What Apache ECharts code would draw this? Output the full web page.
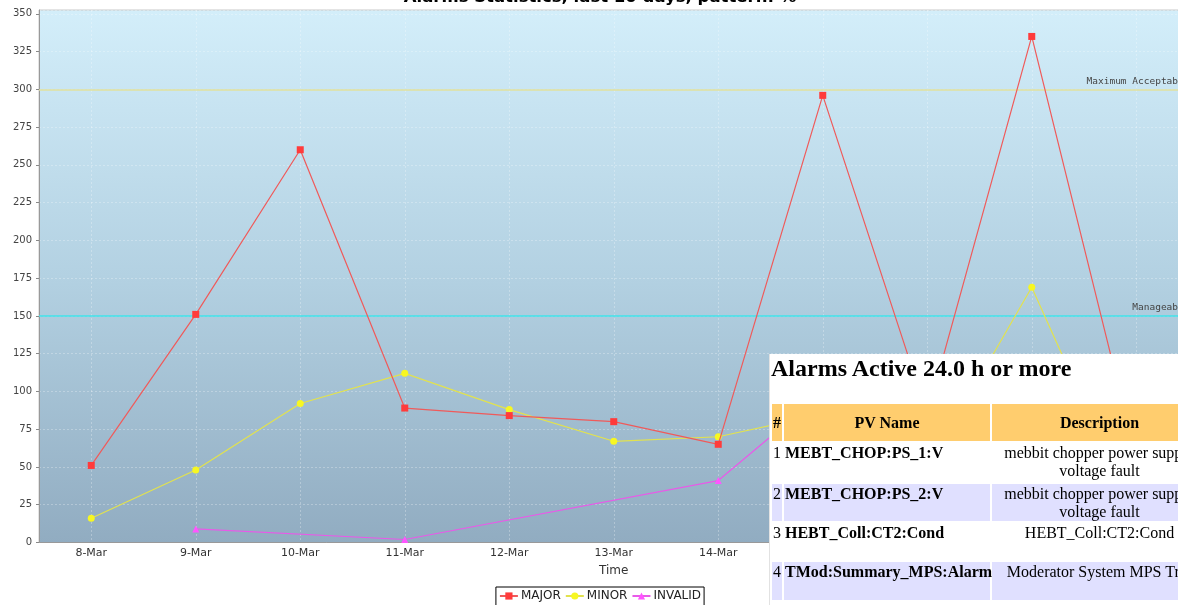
<!DOCTYPE html>
<html>
<head>
<meta charset="utf-8">
<script src="https://cdn.jsdelivr.net/npm/echarts@6/dist/echarts.min.js"></script>
<style>
html,body{margin:0;padding:0;width:1178px;height:605px;overflow:hidden;background:#fff;}
#chart{position:absolute;left:0;top:0;width:1200px;height:605px;}
#panel{position:absolute;left:770px;top:354px;width:470px;height:260px;background:#fff;overflow:hidden;box-shadow:-1px 0 0 #e2e2e2;font-family:'Liberation Serif','Times New Roman',serif;color:#000;z-index:2;}
#ptitle{position:absolute;left:1px;top:1px;font-size:24px;font-weight:bold;line-height:27px;white-space:nowrap;}
#ptable{position:absolute;left:0;top:48px;border-collapse:separate;border-spacing:2px;table-layout:fixed;width:439px;font-size:16px;line-height:18px;}
#ptable th{background:#FFCD6E;font-weight:bold;padding:0 1px;vertical-align:middle;text-align:center;}
#ptable td{padding:1px 1px 0 1px;vertical-align:top;}
#ptable td.num{text-align:left;}
#ptable td.pv{font-weight:bold;text-align:left;white-space:nowrap;}
#ptable td.desc{text-align:center;}
#ptable tr.even td{background:#E0E0FF;}
#ptable tr.odd td{background:#fff;}
</style>
</head>
<body>
<div id="chart"></div>
<div id="panel"><div id="ptitle"></div><table id="ptable"></table></div>
<script>
// ---- chart data ----
const chartTitle = 'Alarms Statistics, last 10 days, pattern: %';
const categories = ['8-Mar','9-Mar','10-Mar','11-Mar','12-Mar','13-Mar','14-Mar','15-Mar','16-Mar','17-Mar','18-Mar'];
const majorValues = [51, 151, 260, 89, 84, 80, 65, 296, 85, 335, 56];
const minorValues = [16, 48, 92, 112, 88, 67, 70, 85, 49, 169, 15];
const invalidValues = [null, 9, null, 2, null, null, 41, 99, null, null, null];
const seriesNames = ['MAJOR', 'MINOR', 'INVALID'];
const thresholdValues = [300, 150];
const thresholdLabels = ['Maximum Acceptable', 'Manageable'];
const yMin = 0, yMaxTick = 350, yInterval = 25;
const xAxisName = 'Time';

// ---- table data ----
const tableTitle = 'Alarms Active 24.0 h or more';
const tableHeaders = ['#', 'PV Name', 'Description'];
const pvNames = ['MEBT_CHOP:PS_1:V', 'MEBT_CHOP:PS_2:V', 'HEBT_Coll:CT2:Cond', 'TMod:Summary_MPS:Alarm'];
const pvDescriptions = ['mebbit chopper power supply voltage fault', 'mebbit chopper power supply voltage fault', 'HEBT_Coll:CT2:Cond', 'Moderator System MPS Trip'];

// ---- build table ----
(function(){
  document.getElementById('ptitle').textContent = tableTitle;
  const t = document.getElementById('ptable');
  const colW = [10, 206, 215];
  const rowH = [39, 37, 37, 38];
  let html = '<colgroup>' + colW.map(w => '<col style="width:' + w + 'px">').join('') + '</colgroup>';
  html += '<tr style="height:37px">' + tableHeaders.map(h => '<th>' + h + '</th>').join('') + '</tr>';
  pvNames.forEach((pv, i) => {
    html += '<tr class="' + (i % 2 ? 'even' : 'odd') + '" style="height:' + rowH[i] + 'px">' +
      '<td class="num">' + (i + 1) + '</td><td class="pv">' + pv + '</td><td class="desc">' + pvDescriptions[i] + '</td></tr>';
  });
  t.innerHTML = html;
})();

// ---- chart ----
const chart = echarts.init(document.getElementById('chart'), null, {renderer: 'canvas'});
const gridTop = 10, gridBottomY = 542.5, pxPerUnit = 1.5106;
const yMax = yMaxTick + (gridBottomY - gridTop - yMaxTick * pxPerUnit) / pxPerUnit;

const gridLineStyle = {color: 'rgba(255,255,255,0.28)', type: [2, 2], width: 1};

const option = {
  animation: false,
  backgroundColor: '#ffffff',
  title: {
    text: chartTitle,
    left: 'center',
    top: -10.5,
    padding: 0,
    textStyle: {fontFamily: 'DejaVu Sans', fontSize: 16.5, fontWeight: 'bold', color: '#000'}
  },
  legend: {
    data: seriesNames,
    left: 'center',
    top: 587,
    padding: [3, 3, 8, 3],
    itemGap: 4,
    itemWidth: 18,
    itemHeight: 9,
    borderColor: '#000',
    borderWidth: 1,
    backgroundColor: '#fff',
    textStyle: {fontFamily: 'DejaVu Sans', fontSize: 12, color: '#222', padding: [0, 0, 0, -2]}
  },
  grid: {
    left: 39, top: gridTop, width: 1149.5, height: gridBottomY - gridTop,
    show: true,
    borderColor: '#c8c8c8', borderWidth: 1,
    backgroundColor: new echarts.graphic.LinearGradient(0, 0, 0, 1, [
      {offset: 0, color: '#D3EEFA'},
      {offset: 0.5, color: '#B3D1E2'},
      {offset: 1, color: '#91ACC1'}
    ])
  },
  xAxis: {
    type: 'category',
    data: categories,
    boundaryGap: true,
    name: xAxisName,
    nameLocation: 'middle',
    nameGap: 22,
    nameTextStyle: {fontFamily: 'DejaVu Sans', fontSize: 12, color: '#333'},
    axisLine: {show: true, lineStyle: {color: '#999', width: 1}},
    axisTick: {show: false, alignWithLabel: true},
    axisLabel: {interval: 0, margin: 5, fontFamily: 'DejaVu Sans', fontSize: 11, color: '#333'},
    splitLine: {show: true, alignWithLabel: true, interval: 0, lineStyle: gridLineStyle}
  },
  yAxis: {
    type: 'value',
    min: yMin,
    max: yMax,
    interval: yInterval,
    axisLine: {show: true, lineStyle: {color: '#999', width: 1}},
    axisTick: {show: true, length: 3, lineStyle: {color: '#888'}},
    axisLabel: {showMaxLabel: false, margin: 7, fontFamily: 'DejaVu Sans', fontSize: 10, color: '#444'},
    splitLine: {show: true, lineStyle: gridLineStyle}
  },
  series: [
    {
      name: seriesNames[0], type: 'line', data: majorValues,
      symbol: 'rect', symbolSize: 7, showAllSymbol: true, z: 4,
      lineStyle: {color: '#F05A5A', width: 1.2},
      itemStyle: {color: '#FF3B3B'},
      emphasis: {disabled: true},
      markLine: {
        silent: true, symbol: 'none', animation: false, z: 2,
        label: {show: true, position: 'insideEndTop', distance: [-1, 3], fontFamily: 'DejaVu Sans Mono', fontSize: 9.5, color: '#444'},
        data: [
          {yAxis: thresholdValues[0], name: thresholdLabels[0], label: {formatter: thresholdLabels[0]}, lineStyle: {color: '#E0E09C', width: 1.5, type: 'solid'}},
          {yAxis: thresholdValues[1], name: thresholdLabels[1], label: {formatter: thresholdLabels[1]}, lineStyle: {color: '#3FE3EA', width: 1.5, type: 'solid'}}
        ]
      }
    },
    {
      name: seriesNames[1], type: 'line', data: minorValues,
      symbol: 'circle', symbolSize: 7, showAllSymbol: true, z: 3,
      lineStyle: {color: '#E2E24E', width: 1.2},
      itemStyle: {color: '#F7F722'},
      emphasis: {disabled: true}
    },
    {
      name: seriesNames[2], type: 'line', data: invalidValues, connectNulls: true,
      symbol: 'triangle', symbolSize: 7, showAllSymbol: true, z: 3,
      lineStyle: {color: '#E85AE8', width: 1.2},
      itemStyle: {color: '#FF55FF'},
      emphasis: {disabled: true}
    }
  ]
};
chart.setOption(option);
</script>
</body>
</html>
